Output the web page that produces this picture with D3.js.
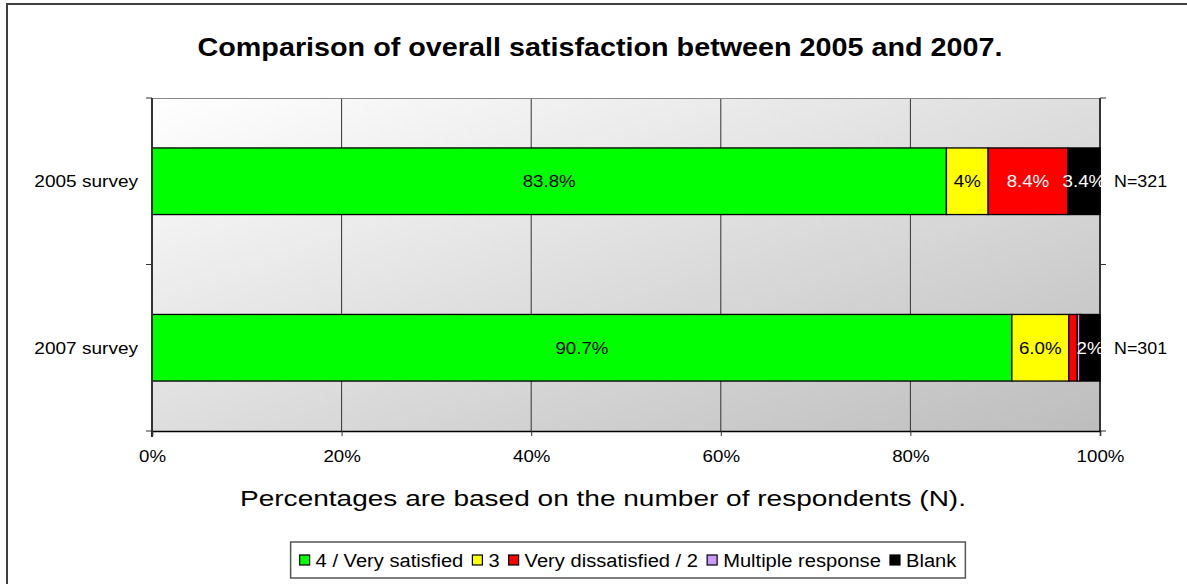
<!DOCTYPE html>
<html><head><meta charset="utf-8">
<script src="https://cdn.jsdelivr.net/npm/d3@7"></script>
<style>body{margin:0;background:#fff;}svg{display:block;font-family:"Liberation Sans",Arial,sans-serif;}</style>
</head><body>
<script>
const categories = ["2005 survey", "2007 survey"];
const nLabels = ["N=321", "N=301"];
const seriesNames = ["4 / Very satisfied", "3", "Very dissatisfied / 2", "Multiple response", "Blank"];
const seriesColors = ["#00ff00", "#ffff00", "#ff0000", "#cc99ff", "#000000"];
const labelColors = ["#000", "#000", "#fff", "#000", "#fff"];
const values2005 = [83.8, 4.4, 8.4, 0, 3.4];
const values2007 = [90.7, 6.0, 0.9, 0.3, 2.1];
const labels2005 = ["83.8%", "4%", "8.4%", "", "3.4%"];
const labels2007 = ["90.7%", "6.0%", "", "", "2%"];
const xTicks = [0, 20, 40, 60, 80, 100];

const W = 1187, H = 584;
const svg = d3.select("body").append("svg").attr("width", W).attr("height", H);

function stretch(sel, sx) {
  sel.each(function () {
    const t = d3.select(this);
    const x = +t.attr("x") || 0, y = +t.attr("y") || 0;
    t.attr("transform", `translate(${x},${y}) scale(${sx},1) translate(${-x},${-y})`);
  });
  return sel;
}

// outer frame
svg.append("rect").attr("x", 7).attr("y", 4).attr("width", W + 20).attr("height", H + 20)
  .attr("fill", "#fff").attr("stroke", "#404040").attr("stroke-width", 2);

const L = 152, R = 1100, T = 98, B = 431;
const x = d3.scaleLinear().domain([0, 100]).range([L, R]);
const y = d3.scaleBand().domain(categories).range([T, B]).paddingInner(0.6).paddingOuter(0.3);

const defs = svg.append("defs");
const grad = defs.append("linearGradient").attr("id", "bg").attr("x1", "0").attr("y1", "0").attr("x2", "1").attr("y2", "1");
grad.append("stop").attr("offset", "0").attr("stop-color", "#ffffff");
grad.append("stop").attr("offset", "1").attr("stop-color", "#bdbdbd");

svg.append("rect").attr("x", L).attr("y", T).attr("width", R - L).attr("height", B - T).attr("fill", "url(#bg)");

// grid lines
svg.append("g").selectAll("line").data(xTicks.filter(d => d > 0 && d < 100)).join("line")
  .attr("x1", d => x(d)).attr("x2", d => x(d)).attr("y1", T).attr("y2", B)
  .attr("stroke", "#333").attr("stroke-width", 1);
svg.append("line").attr("x1", L).attr("x2", R).attr("y1", T + 0.5).attr("y2", T + 0.5).attr("stroke", "#888");
svg.append("line").attr("x1", R).attr("x2", R).attr("y1", T).attr("y2", B).attr("stroke", "#333").attr("stroke-width", 2);

// bars
const rows = [values2005, values2007];
const rowLabels = [labels2005, labels2007];
rows.forEach((vals, i) => {
  let acc = 0;
  const segs = vals.map((v, j) => { const s = { x0: acc, x1: acc + v, j }; acc += v; return s; });
  const g = svg.append("g");
  g.selectAll("rect").data(segs.filter(s => s.x1 > s.x0)).join("rect")
    .attr("x", s => x(s.x0)).attr("width", s => x(s.x1) - x(s.x0))
    .attr("y", y(categories[i])).attr("height", y.bandwidth())
    .attr("fill", s => seriesColors[s.j]).attr("stroke", "#000").attr("stroke-width", 1.3);
  stretch(g.selectAll("text").data(segs.filter(s => rowLabels[i][s.j] !== "")).join("text")
    .attr("x", s => (x(s.x0) + x(s.x1)) / 2).attr("y", y(categories[i]) + y.bandwidth() / 2 + 6)
    .attr("text-anchor", "middle")
    .attr("font-size", 17).attr("fill", s => labelColors[s.j]).text(s => rowLabels[i][s.j]), 1.1);
  stretch(svg.append("text").attr("x", R + 14).attr("y", y(categories[i]) + y.bandwidth() / 2 + 6)
    .attr("font-size", 17).text(nLabels[i]), 1.05);
});

// y axis
const yAxisG = svg.append("g").attr("transform", `translate(${L},0)`);
yAxisG.append("line").attr("x1", 0).attr("x2", 0).attr("y1", T).attr("y2", B + 6).attr("stroke", "#333").attr("stroke-width", 2);
const yTickPos = [T, (T + B) / 2, B];
yAxisG.selectAll("line.t").data(yTickPos).join("line").attr("class", "t")
  .attr("x1", -6).attr("x2", 0).attr("y1", d => d).attr("y2", d => d).attr("stroke", "#333");
svg.append("g").selectAll("line").data(yTickPos).join("line")
  .attr("x1", R).attr("x2", R + 6).attr("y1", d => d).attr("y2", d => d).attr("stroke", "#333");
stretch(svg.append("g").selectAll("text").data(categories).join("text")
  .attr("x", 138).attr("y", d => y(d) + y.bandwidth() / 2 + 6)
  .attr("text-anchor", "end").attr("font-size", 17).text(d => d), 1.12);

// x axis
const xAxis = d3.axisBottom(x).tickValues(xTicks).tickFormat(d => d + "%").tickSize(5).tickPadding(14);
const xg = svg.append("g").attr("transform", `translate(0,${B})`).call(xAxis);
xg.select(".domain").attr("stroke", "#000").attr("stroke-width", 1.5);
xg.selectAll(".tick line").attr("stroke", "#333");
xg.selectAll(".tick text").attr("font-size", 17).attr("fill", "#000")
  .attr("font-family", "Liberation Sans, Arial, sans-serif")
  .attr("transform", "scale(1.1,1)");

// title
svg.append("text").attr("x", 600).attr("y", 56).attr("text-anchor", "middle")
  .attr("font-size", 25).attr("font-weight", "bold")
  .attr("textLength", 805).attr("lengthAdjust", "spacingAndGlyphs")
  .text("Comparison of overall satisfaction between 2005 and 2007.");
svg.append("text").attr("x", 603).attr("y", 506).attr("text-anchor", "middle")
  .attr("font-size", 22).attr("textLength", 726).attr("lengthAdjust", "spacingAndGlyphs")
  .text("Percentages are based on the number of respondents (N).");

// legend
const lg = svg.append("g");
const box = lg.append("rect").attr("y", 542).attr("height", 36)
  .attr("fill", "#fff").attr("stroke", "#555").attr("stroke-width", 1.5);
const items = lg.append("g");
let lx = 0;
const sx = 1.06;
seriesNames.forEach((name, i) => {
  items.append("rect").attr("x", lx).attr("y", 555).attr("width", 10).attr("height", 10)
    .attr("fill", seriesColors[i]).attr("stroke", "#000").attr("stroke-width", 1.2);
  const t = items.append("text").attr("x", lx + 16).attr("y", 567).attr("font-size", 19).text(name);
  const w = t.node().getComputedTextLength() * sx;
  stretch(t, sx);
  lx += 16 + w + 9;
});
const totalW = lx - 9;
const cx = 628;
items.attr("transform", `translate(${cx - totalW / 2},0)`);
box.attr("x", cx - totalW / 2 - 9).attr("width", totalW + 18);
</script>
</body></html>
